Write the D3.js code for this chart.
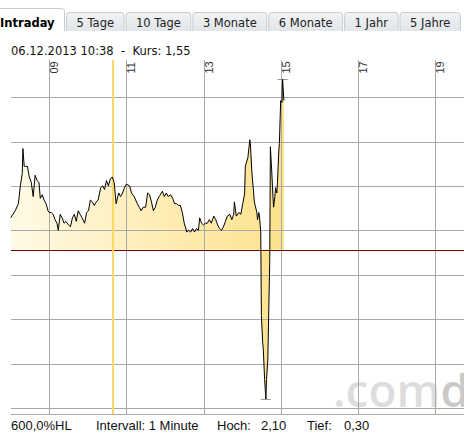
<!DOCTYPE html>
<html>
<head>
<meta charset="utf-8">
<script src="https://cdn.jsdelivr.net/npm/d3@7"></script>
<style>
  body { margin: 0; background: #fff; overflow: hidden; }
  svg { display: block; }
</style>
</head>
<body>
<svg></svg>
<script>
'use strict';

// tabs across the top
var tabLabels = ['Intraday', '5 Tage', '10 Tage', '3 Monate', '6 Monate', '1 Jahr', '5 Jahre'];
var activeTab = 'Intraday';

// intraday quotes, 06.12.2013 (time of day, price)
var times = ['08:00','08:07','08:12','08:15','08:18','08:19','08:21','08:23','08:26','08:29','08:32','08:35','08:38','08:41','08:44','08:46','08:49','08:52','08:55','08:58',
  '09:00','09:03','09:06','09:09','09:12','09:14','09:17','09:20','09:23','09:26','09:30','09:33','09:36','09:39','09:42','09:45','09:48','09:51','09:55','09:58',
  '10:01','10:04','10:07','10:10','10:13','10:16','10:20','10:23','10:26','10:29','10:32','10:35','10:38','10:41','10:44','10:48','10:51','10:54','10:57',
  '11:00','11:05','11:08','11:12','11:17','11:20','11:23','11:26','11:30','11:33','11:36','11:39','11:42','11:45','11:48','11:51','11:56','11:59',
  '12:02','12:05','12:09','12:12','12:15','12:18','12:21','12:24','12:27','12:30','12:34','12:37','12:40','12:43','12:46','12:49','12:52','12:54','12:57',
  '13:00','13:03','13:06','13:09','13:12','13:16','13:19','13:22','13:25','13:28','13:31','13:34','13:37','13:41','13:44','13:47','13:48','13:51','13:55','13:58',
  '14:01','14:04','14:05','14:09','14:12','14:13','14:15','14:16','14:18','14:19','14:23','14:24','14:26','14:27','14:29','14:30','14:32','14:33','14:35','14:37',
  '14:38','14:40','14:41','14:43','14:44','14:46','14:48','14:49','14:51','14:52','14:54','14:55','14:57','14:58','15:00','15:02','15:03','15:05'];
var prices = [1.32,1.36,1.40,1.50,1.57,1.71,1.61,1.61,1.61,1.55,1.52,1.44,1.56,1.53,1.52,1.43,1.45,1.42,1.40,1.36,
  1.35,1.35,1.34,1.31,1.29,1.25,1.34,1.32,1.29,1.30,1.28,1.27,1.32,1.34,1.30,1.36,1.34,1.32,1.29,1.35,
  1.36,1.42,1.41,1.39,1.41,1.42,1.49,1.50,1.48,1.53,1.50,1.54,1.55,1.52,1.40,1.46,1.44,1.46,1.49,
  1.51,1.50,1.46,1.44,1.40,1.38,1.36,1.38,1.38,1.46,1.45,1.41,1.36,1.38,1.42,1.44,1.47,1.44,
  1.46,1.44,1.45,1.43,1.40,1.40,1.39,1.39,1.35,1.29,1.24,1.25,1.24,1.26,1.24,1.26,1.25,1.32,1.29,
  1.28,1.29,1.29,1.31,1.29,1.33,1.31,1.28,1.26,1.25,1.27,1.30,1.33,1.34,1.31,1.34,1.41,1.33,1.35,1.34,
  1.40,1.46,1.61,1.66,1.76,1.73,1.59,1.54,1.46,1.41,1.35,1.31,1.35,1.33,1.24,0.77,0.62,0.58,0.41,0.30,
  0.41,0.52,0.71,1.08,1.72,1.59,1.44,1.38,1.44,1.49,1.46,1.52,1.69,1.74,1.98,1.97,2.10,1.98];

var prevClose = 1.14;
var cursorTime = '10:38';
var cursorPrice = 1.55;
var hourTicks = [9, 11, 13, 15, 17, 19];
var priceTicks = [0.25, 0.5, 0.75, 1.0, 1.25, 1.5, 1.75, 2.0];

var width = 464, height = 441;
var plot = { left: 11, top: 60, bottom: 414, right: 472 };

function toMin(t) { var p = t.split(':'); return +p[0] * 60 + +p[1]; }
function fmt(v) { return v.toFixed(2).replace('.', ','); }

var svg = d3.select('svg').attr('width', width).attr('height', height);
var defs = svg.append('defs');

var grad = defs.append('linearGradient').attr('id', 'fillGrad')
  .attr('gradientUnits', 'userSpaceOnUse')
  .attr('x1', 11).attr('x2', 283).attr('y1', 0).attr('y2', 0);
grad.append('stop').attr('offset', 0).attr('stop-color', '#fffae6');
grad.append('stop').attr('offset', 1).attr('stop-color', '#fde28c');

var tabGrad = defs.append('linearGradient').attr('id', 'tabGrad')
  .attr('x1', 0).attr('x2', 0).attr('y1', 0).attr('y2', 1);
tabGrad.append('stop').attr('offset', 0).attr('stop-color', '#f1f3f5');
tabGrad.append('stop').attr('offset', 1).attr('stop-color', '#e2e6e9');

// scales
var xScale = d3.scaleLinear().domain([8 * 60, 20 * 60]).range([10.7, 473.5]);
var yScale = d3.scaleLinear().domain([0.25, 2.0]).range([407.9, 97.1]);

// tabs
var tabG = svg.append('g');
var tx = -10.5;
tabLabels.forEach(function(label) {
  var active = label === activeTab;
  var g = tabG.append('g');
  var txt = g.append('text')
    .attr('y', 27)
    .style('font-family', '"DejaVu Sans", Verdana, sans-serif')
    .style('font-size', '11.5px')
    .style('font-weight', active ? 'bold' : 'normal')
    .attr('fill', active ? '#000' : '#222')
    .text(label);
  var w = txt.node().getComputedTextLength() + 21;
  var top = active ? 8.5 : 12.5, bot = 31, r = 3;
  var x0 = tx + 0.5, x1 = tx + w - 0.5;
  var d = 'M' + x0 + ',' + bot + 'L' + x0 + ',' + (top + r) + 'Q' + x0 + ',' + top + ' ' + (x0 + r) + ',' + top +
    'L' + (x1 - r) + ',' + top + 'Q' + x1 + ',' + top + ' ' + x1 + ',' + (top + r) + 'L' + x1 + ',' + bot;
  g.insert('path', 'text')
    .attr('d', d)
    .attr('fill', active ? '#fff' : 'url(#tabGrad)')
    .attr('stroke', '#c6cbcf')
    .attr('stroke-width', 1);
  txt.attr('x', tx + 10.5);
  tx += w + 1;
});

// quote header
svg.append('text')
  .attr('x', 11).attr('y', 55)
  .style('font-family', '"DejaVu Sans", Verdana, sans-serif')
  .style('font-size', '11.5px')
  .attr('fill', '#111')
  .attr('xml:space', 'preserve')
  .text('06.12.2013 ' + cursorTime + '  -  Kurs: ' + fmt(cursorPrice));

// watermark
var wm = svg.append('text')
  .attr('x', 333).attr('y', 407)
  .style('font-family', '"Open Sans", sans-serif')
  .style('font-size', '46px')
  .style('font-weight', 600);
wm.append('tspan').attr('fill', '#dddddd').text('.com');
wm.append('tspan').attr('fill', '#c9c9c9').text('direct');

var data = times.map(function(t, i) { return { m: toMin(t), v: prices[i] }; });

// area between price and previous close
var area = d3.area()
  .x(function(d) { return xScale(d.m); })
  .y0(yScale(prevClose))
  .y1(function(d) { return yScale(d.v); });
svg.append('path').datum(data)
  .attr('d', area)
  .attr('fill', 'url(#fillGrad)');

// grid
var grid = svg.append('g').attr('stroke', '#a9a9a9').attr('stroke-width', 1).attr('shape-rendering', 'crispEdges');
grid.selectAll('line.h').data(priceTicks).enter().append('line')
  .attr('x1', plot.left).attr('x2', plot.right)
  .attr('y1', function(d) { return Math.round(yScale(d)) + 0.5; })
  .attr('y2', function(d) { return Math.round(yScale(d)) + 0.5; });
grid.selectAll('line.v').data(hourTicks).enter().append('line')
  .attr('x1', function(d) { return Math.round(xScale(d * 60)) + 0.5; })
  .attr('x2', function(d) { return Math.round(xScale(d * 60)) + 0.5; })
  .attr('y1', plot.top).attr('y2', plot.bottom);
grid.append('line')
  .attr('x1', plot.left).attr('x2', plot.right)
  .attr('y1', plot.bottom + 0.5).attr('y2', plot.bottom + 0.5);

// hour labels, rotated
svg.selectAll('text.hour').data(hourTicks).enter().append('text')
  .attr('class', 'hour')
  .attr('transform', function(d) { return 'translate(' + (Math.round(xScale(d * 60)) + 9) + ',73.5) rotate(-90)'; })
  .style('font-family', '"Liberation Sans", Arial, sans-serif')
  .style('font-size', '11px')
  .attr('fill', '#333')
  .text(function(d) { return d3.format('02')(d); });

// previous close
svg.append('line')
  .attr('x1', plot.left).attr('x2', plot.right)
  .attr('y1', Math.round(yScale(prevClose)) + 0.5).attr('y2', Math.round(yScale(prevClose)) + 0.5)
  .attr('stroke', '#6e0000').attr('stroke-width', 1);

// cursor
svg.append('line')
  .attr('x1', xScale(toMin(cursorTime)) + 0.8).attr('x2', xScale(toMin(cursorTime)) + 0.8)
  .attr('y1', plot.top).attr('y2', plot.bottom)
  .attr('stroke', '#fcd75e').attr('stroke-width', 2);

// high / low markers
var hi = data.reduce(function(a, b) { return b.v > a.v ? b : a; });
var lo = data.reduce(function(a, b) { return b.v < a.v ? b : a; });
[hi, lo].forEach(function(d) {
  svg.append('line')
    .attr('x1', xScale(d.m) - 5).attr('x2', xScale(d.m) + 5)
    .attr('y1', Math.round(yScale(d.v)) + 0.5).attr('y2', Math.round(yScale(d.v)) + 0.5)
    .attr('stroke', '#999').attr('stroke-width', 1);
});

// price line
var line = d3.line()
  .x(function(d) { return xScale(d.m); })
  .y(function(d) { return yScale(d.v); });
svg.append('path').datum(data)
  .attr('d', line)
  .attr('fill', 'none')
  .attr('stroke', '#000')
  .attr('stroke-width', 1);

// footer
var foot = svg.append('g')
  .style('font-family', '"Liberation Sans", Arial, sans-serif')
  .style('font-size', '13px')
  .attr('fill', '#111');
var footItems = [
  [11, '600,0%HL'],
  [96, 'Intervall: 1 Minute'],
  [217, 'Hoch:'],
  [261, fmt(hi.v)],
  [307, 'Tief:'],
  [344, fmt(lo.v)]
];
footItems.forEach(function(f) {
  foot.append('text').attr('x', f[0]).attr('y', 430).text(f[1]);
});
</script>
</body>
</html>
